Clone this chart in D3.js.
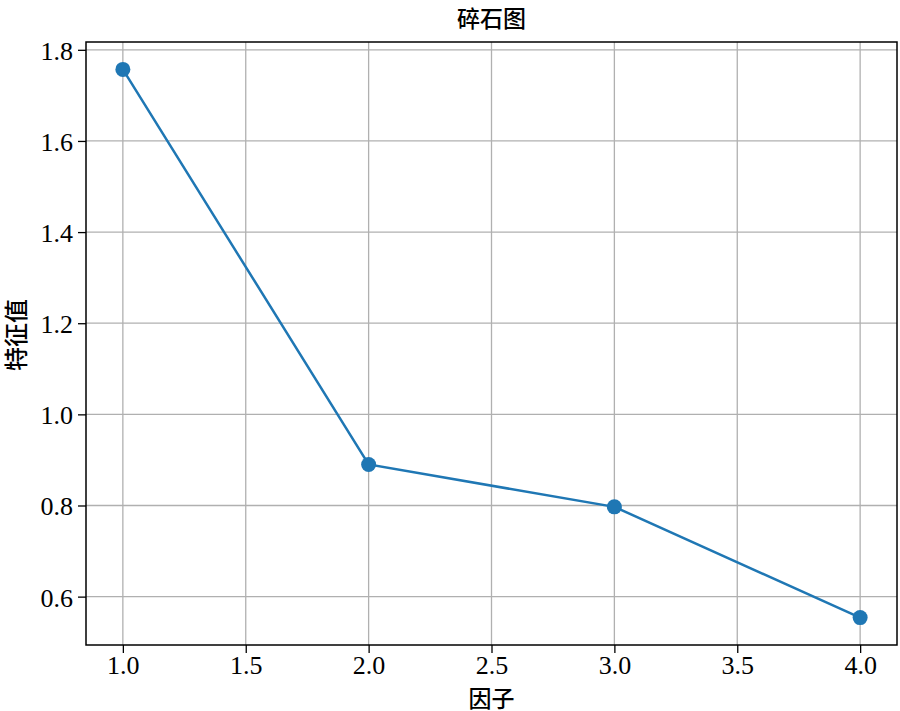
<!DOCTYPE html>
<html>
<head>
<meta charset="utf-8">
<script src="https://cdn.jsdelivr.net/npm/d3@7"></script>
<style>
  html, body { margin: 0; padding: 0; background: #fff; }
  svg { display: block; }
</style>
</head>
<body>
<svg id="chart" width="900" height="711"></svg>
<script>
const factors = [1, 2, 3, 4];
const eigenvalues = [1.757, 0.890, 0.797, 0.554];
const xTicks = [1.0, 1.5, 2.0, 2.5, 3.0, 3.5, 4.0];
const yTicks = [0.6, 0.8, 1.0, 1.2, 1.4, 1.6, 1.8];
const titleText = "碎石图";
const xLabelText = "因子";
const yLabelText = "特征值";

const W = 900, H = 711;
const m = { left: 86, right: 3, top: 42, bottom: 66 };
const svg = d3.select("#chart");
const pw = W - m.left - m.right, ph = H - m.top - m.bottom;

const xPad = (d3.max(factors) - d3.min(factors)) * 0.05;
const yPad = (d3.max(eigenvalues) - d3.min(eigenvalues)) * 0.05;
const x = d3.scaleLinear().domain([d3.min(factors) - xPad, d3.max(factors) + xPad]).range([m.left, m.left + pw]);
const y = d3.scaleLinear().domain([d3.min(eigenvalues) - yPad, d3.max(eigenvalues) + yPad]).range([m.top + ph, m.top]);

const serif = "'Liberation Serif', 'Times New Roman', serif";
const cjk = "'Noto Sans CJK SC', sans-serif";

// grid
const g = svg.append("g");
g.selectAll(".gx").data(xTicks).enter().append("line")
  .attr("x1", d => x(d)).attr("x2", d => x(d))
  .attr("y1", m.top).attr("y2", m.top + ph)
  .attr("stroke", "#b0b0b0").attr("stroke-width", 1.3);
g.selectAll(".gy").data(yTicks).enter().append("line")
  .attr("y1", d => y(d)).attr("y2", d => y(d))
  .attr("x1", m.left).attr("x2", m.left + pw)
  .attr("stroke", "#b0b0b0").attr("stroke-width", 1.3);

// axes
const xAxis = svg.append("g").attr("transform", `translate(0,${m.top + ph})`)
  .call(d3.axisBottom(x).tickValues(xTicks).tickFormat(d3.format(".1f")).tickSize(8).tickPadding(4));
const yAxis = svg.append("g").attr("transform", `translate(${m.left},0)`)
  .call(d3.axisLeft(y).tickValues(yTicks).tickFormat(d3.format(".1f")).tickSize(8).tickPadding(5));
[xAxis, yAxis].forEach(a => {
  a.select(".domain").remove();
  a.selectAll(".tick line").attr("stroke", "#000").attr("stroke-width", 1.3);
  a.selectAll(".tick text").attr("font-family", serif).attr("font-size", 26).attr("fill", "#000");
});
xAxis.selectAll(".tick text").attr("dy", "0.64em");
yAxis.selectAll(".tick text").attr("dy", "0.36em");

// line
const line = d3.line().x((d, i) => x(factors[i])).y(d => y(d));
svg.append("path").datum(eigenvalues)
  .attr("d", line).attr("fill", "none")
  .attr("stroke", "#1f77b4").attr("stroke-width", 2.5);

svg.selectAll(".pt").data(eigenvalues).enter().append("circle")
  .attr("cx", (d, i) => x(factors[i])).attr("cy", d => y(d))
  .attr("r", 7.5).attr("fill", "#1f77b4");

// frame
svg.append("rect").attr("x", m.left).attr("y", m.top).attr("width", pw).attr("height", ph)
  .attr("fill", "none").attr("stroke", "#000").attr("stroke-width", 1.5);

// texts
svg.append("text").attr("x", m.left + pw / 2).attr("y", 27)
  .attr("text-anchor", "middle").attr("font-family", cjk).attr("font-size", 23)
  .attr("font-weight", 500).attr("fill", "#000").text(titleText);
svg.append("text").attr("x", m.left + pw / 2).attr("y", 707)
  .attr("text-anchor", "middle").attr("font-family", cjk).attr("font-size", 23)
  .attr("font-weight", 500).attr("fill", "#000").text(xLabelText);
svg.append("text").attr("transform", "translate(25,335) rotate(-90)")
  .attr("text-anchor", "middle").attr("font-family", cjk).attr("font-size", 24)
  .attr("font-weight", 500).attr("fill", "#000").text(yLabelText);
</script>
</body>
</html>
